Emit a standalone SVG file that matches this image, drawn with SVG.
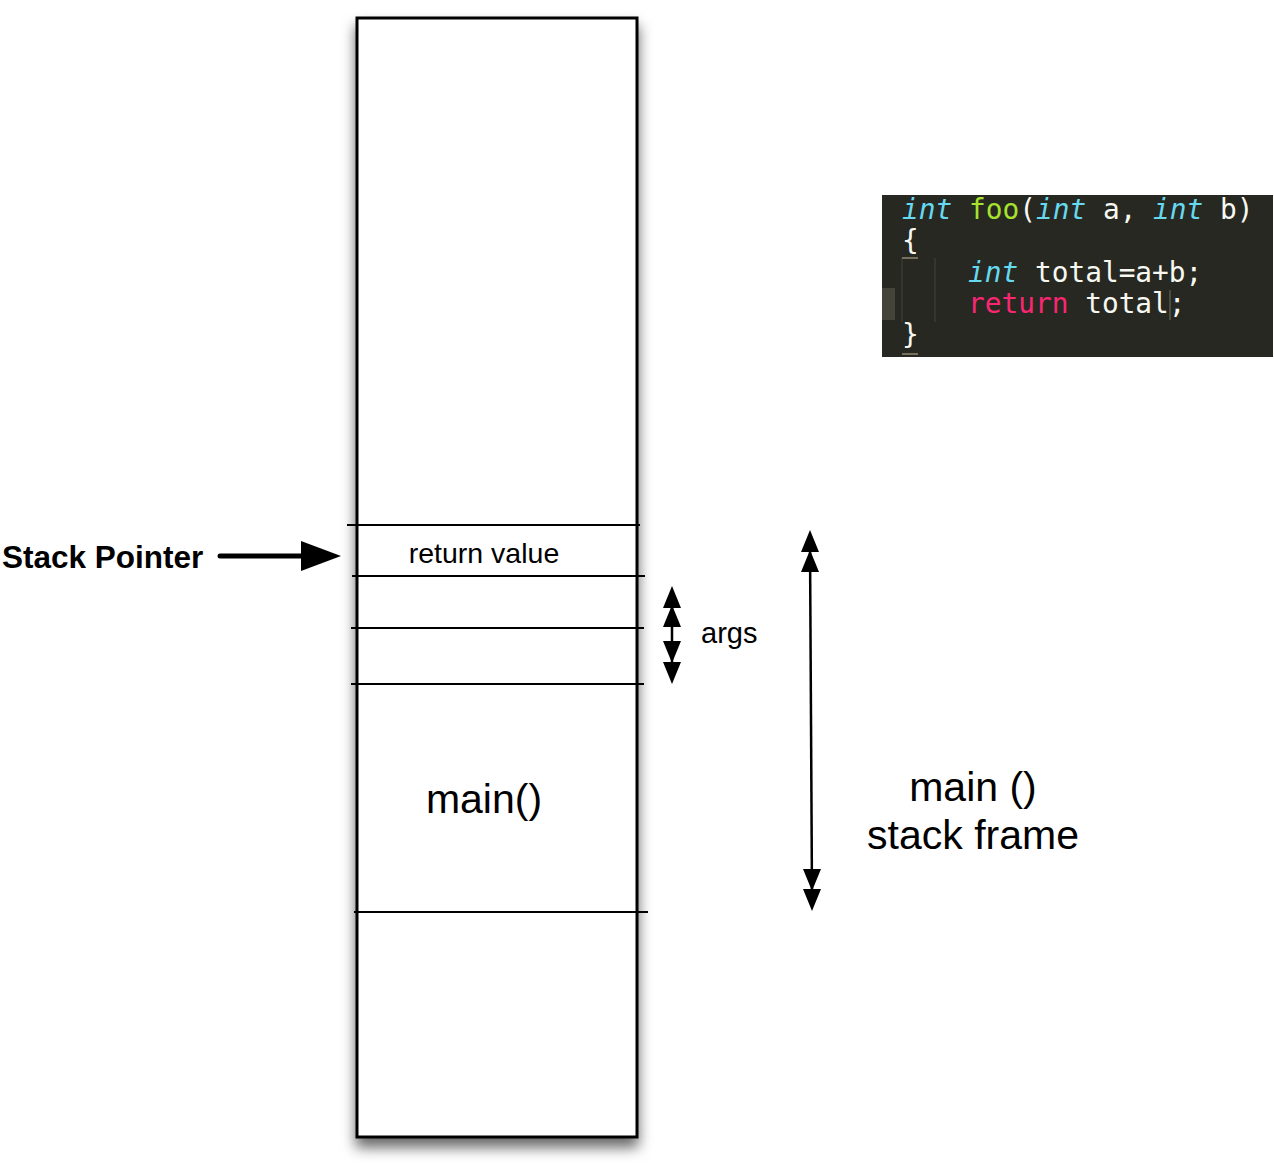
<svg xmlns="http://www.w3.org/2000/svg" width="1274" height="1172" viewBox="0 0 1274 1172">
<style>
.sep{stroke:#000;stroke-width:2;fill:none}
.lbl{font-family:"Liberation Sans",Arial,sans-serif;fill:#000}
.code{font-family:"DejaVu Sans Mono",monospace;font-size:27.8px;fill:#f8f8f2}
.kw{fill:#66d9ef;font-style:italic}
.fn{fill:#a6e22e}
.rt{fill:#f92672}
.conn{stroke:#000;stroke-width:2.5;fill:none}
</style>
<defs>
<filter id="sh" x="-20%" y="-5%" width="140%" height="112%">
<feDropShadow dx="0" dy="9" stdDeviation="7" flood-color="#000" flood-opacity="0.6"/>
</filter>
</defs>
<rect width="1274" height="1172" fill="#fff"/>
<g id="stack">
<rect x="357" y="18" width="280" height="1119" fill="#fff" stroke="#000" stroke-width="3" filter="url(#sh)"/>
<line class="sep" x1="347" y1="525" x2="640" y2="525"/>
<line class="sep" x1="352" y1="576" x2="645" y2="576"/>
<line class="sep" x1="351" y1="628" x2="644" y2="628"/>
<line class="sep" x1="351" y1="684" x2="644" y2="684"/>
<line class="sep" x1="354" y1="912" x2="648" y2="912"/>
<text class="lbl" x="484" y="563" font-size="28.5" text-anchor="middle">return value</text>
<text class="lbl" x="484" y="813" font-size="41" text-anchor="middle">main()</text>
</g>
<g id="stack-pointer">
<text class="lbl" x="2" y="568" font-size="31.5" font-weight="bold">Stack Pointer</text>
</g>
<g id="args-label">
<text class="lbl" x="701" y="643" font-size="29">args</text>
</g>
<g id="frame-label">
<text class="lbl" x="973" y="801" font-size="41" text-anchor="middle">main ()</text>
<text class="lbl" x="973" y="849" font-size="41" text-anchor="middle">stack frame</text>
</g>
<g id="code">
<rect x="882" y="195" width="391" height="162" fill="#272822"/>
<rect x="882" y="288" width="13" height="32" fill="#45443b"/>
<line x1="902" y1="258" x2="902" y2="322" stroke="#3b3a32" stroke-width="1.5"/>
<line x1="935" y1="258" x2="935" y2="322" stroke="#3b3a32" stroke-width="1.5"/>
<line x1="902" y1="258" x2="918" y2="258" stroke="#75715e" stroke-width="2"/>
<line x1="902" y1="354" x2="918" y2="354" stroke="#75715e" stroke-width="2"/>
<line x1="1170" y1="290" x2="1170" y2="320" stroke="#75715e" stroke-width="1"/>
<text class="code" x="902" y="219" xml:space="preserve"><tspan class="kw">int</tspan> <tspan class="fn">foo</tspan>(<tspan class="kw">int</tspan> a, <tspan class="kw">int</tspan> b)</text>
<text class="code" x="902" y="250">{</text>
<text class="code" x="968" y="282" xml:space="preserve"><tspan class="kw">int</tspan> total=a+b;</text>
<text class="code" x="968" y="313" xml:space="preserve"><tspan class="rt">return</tspan> total;</text>
<text class="code" x="902" y="344">}</text>
</g>
<g id="connectors">
<line x1="220" y1="556" x2="305" y2="556" style="stroke:#000;stroke-width:5;stroke-linecap:round"/>
<polygon points="301,541 341,556 301,571" fill="#000"/>
<line class="conn" x1="672" y1="605" x2="672" y2="665"/>
<polygon points="672,586 681,608 663,608" fill="#000"/>
<polygon points="672,605 681,627 663,627" fill="#000"/>
<polygon points="672,684 681,662 663,662" fill="#000"/>
<polygon points="672,663 681,641 663,641" fill="#000"/>
<line class="conn" x1="810" y1="545" x2="812" y2="895"/>
<polygon points="810,530 819,552 801,552" fill="#000"/>
<polygon points="810,550 819,572 801,572" fill="#000"/>
<polygon points="812,911 821,889 803,889" fill="#000"/>
<polygon points="812,891 821,869 803,869" fill="#000"/>
</g>
</svg>
